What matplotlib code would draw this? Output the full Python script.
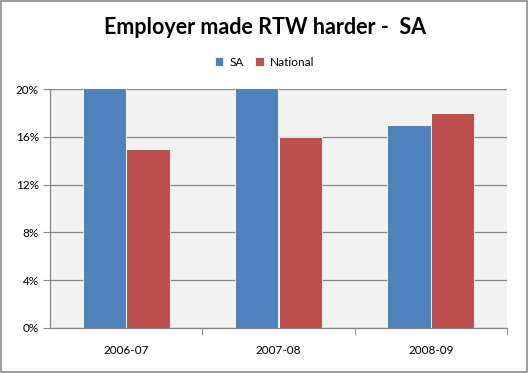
import matplotlib

matplotlib.use("Agg")
import matplotlib.pyplot as plt
import numpy as np
from matplotlib.patches import Rectangle

categories = ["2006-07", "2007-08", "2008-09"]
sa = [0.21, 0.21, 0.17]
national = [0.15, 0.16, 0.18]
yticks = [0, 0.04, 0.08, 0.12, 0.16, 0.20]

plt.rcParams["font.family"] = ["Lato", "DejaVu Sans"]

fig = plt.figure(figsize=(5.29, 3.73), dpi=100)
fig.patches.append(Rectangle((0.002, 0.003), 0.994, 0.993, transform=fig.transFigure,
                             fill=False, edgecolor="#8c8c8c", linewidth=1.2))
ax = fig.add_axes([50 / 529, 1 - 328 / 373, 457 / 529, 239 / 373])
ax.set_facecolor("#f2f2f2")

x = np.arange(len(categories))
w = 0.285
ax.bar(x - w / 2, sa, w, color="#4f81bd", edgecolor="white", linewidth=0.6,
       label="SA", zorder=3)
ax.bar(x + w / 2, national, w, color="#c0504d", edgecolor="white", linewidth=0.6,
       label="National", zorder=3)

ax.set_xlim(-0.5, 2.5)
ax.set_ylim(0, 0.20)
ax.set_yticks(yticks)
ax.set_yticklabels([f"{int(round(t * 100))}%" for t in yticks], fontsize=8.5)
ax.yaxis.grid(True, color="#868686", linewidth=0.9, zorder=0)
ax.tick_params(axis="y", length=5, color="#868686", pad=3)

ax.set_xticks(x)
ax.set_xticklabels(categories, fontsize=8.5)
ax.tick_params(axis="x", length=0, pad=12)
ax.set_xticks([0.5, 1.5, 2.5], minor=True)
ax.tick_params(axis="x", which="minor", length=5, color="#868686")

for s in ["top", "right"]:
    ax.spines[s].set_visible(False)
for s in ["left", "bottom"]:
    ax.spines[s].set_color("#868686")
    ax.spines[s].set_linewidth(0.9)

fig.text(0.5, 1 - 27 / 373, "Employer made RTW harder -  SA", ha="center", va="center",
         fontsize=15.5, fontweight="bold")
fig.legend(loc="center", bbox_to_anchor=(0.5, 1 - 62 / 373), ncol=2, frameon=False,
           fontsize=8.5, handlelength=0.7, handleheight=0.7, handletextpad=0.5,
           columnspacing=1.0)

fig.savefig("out.png", dpi=100)
